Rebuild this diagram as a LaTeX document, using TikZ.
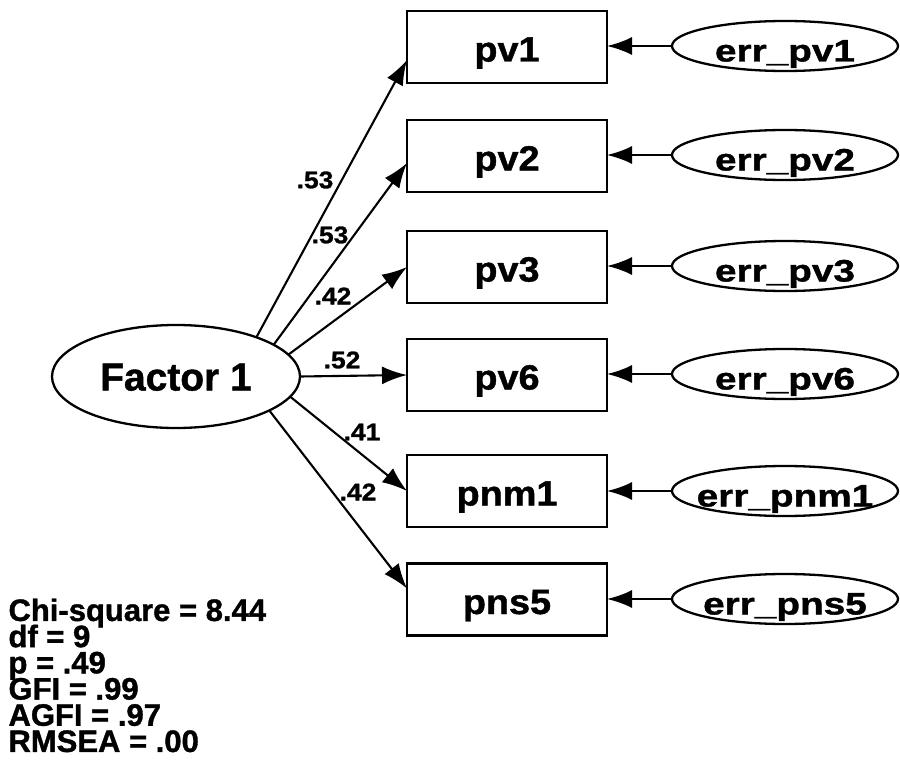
\documentclass[tikz,border=0pt]{standalone}
\usepackage{fontspec}
\setmainfont{Liberation Sans}[BoldFeatures={FakeBold=1.2}]
\newfontfamily\labfont{Liberation Sans}[FakeStretch=1.08, BoldFeatures={FakeBold=1.2}]
\newfontfamily\coeffont{Liberation Sans}[FakeStretch=1.1, BoldFeatures={FakeBold=1.2}]
\newfontfamily\errfont{Liberation Sans}[FakeStretch=1.25, BoldFeatures={FakeBold=1.2}]
\usetikzlibrary{arrows.meta,shapes.geometric}
\newcommand\statsfont{\bfseries\fontsize{31}{26.2}\selectfont\lineskiplimit -100pt\relax}

\begin{document}
\begin{tikzpicture}[x=1pt,y=-1pt,
  every node/.style={inner sep=0pt, outer sep=0pt},
  obs/.style={draw, rectangle, line width=2.3pt, minimum width=200pt, minimum height=72pt,
    font=\labfont\bfseries\fontsize{35}{35}\selectfont, text height=29pt, text depth=0pt},
  latent/.style={draw, ellipse, line width=2.3pt, minimum width=248pt, minimum height=103pt,
    font=\bfseries\fontsize{39}{39}\selectfont, text height=28pt, text depth=0pt},
  errnode/.style={draw, ellipse, line width=2.3pt, minimum width=226pt, minimum height=50pt},
  errtext/.style={font=\errfont\bfseries\fontsize{31}{31}\selectfont, text height=31pt, text depth=0pt},
  coef/.style={font=\coeffont\bfseries\fontsize{24}{24}\selectfont},
  stats/.style={align=left, font=\statsfont},
  link/.style={line width=2.1pt, -{Latex[length=25pt,width=18pt]}}
]
\useasboundingbox (0,0) rectangle (900,760);

% latent factor
\node[latent] (f) at (176,376.5) {Factor 1};

% observed indicators
\node[obs] (pv1)  at (507,47)    {pv1};
\node[obs] (pv2)  at (507,156)   {pv2};
\node[obs] (pv3)  at (507,267)   {pv3};
\node[obs] (pv6)  at (507,375)   {pv6};
\node[obs] (pnm1) at (507,491)   {pnm1};
\node[obs] (pns5) at (507,599.5) {pns5};

% error terms
\node[errnode, label={[errtext]center:err\_pv1}]  (e1) at (785,46)    {};
\node[errnode, label={[errtext]center:err\_pv2}]  (e2) at (785,155)   {};
\node[errnode, label={[errtext]center:err\_pv3}]  (e3) at (785,266)   {};
\node[errnode, label={[errtext]center:err\_pv6}]  (e4) at (785,374)   {};
\node[errnode, label={[errtext]center:err\_pnm1}] (e5) at (785,491)   {};
\node[errnode, label={[errtext]center:err\_pns5}] (e6) at (785,599) {};

% loadings
\draw[link] (f.26)  -- ([yshift=-13pt]pv1.west);
\draw[link] (f.18.7) -- ([yshift=-7pt]pv2.west);
\draw[link] (f.11.6) -- (pv3.west);
\draw[link] (f.0)   -- (pv6.west);
\draw[link] (f.-10.9) -- (pnm1.west);
\draw[link] (f.-20.4) -- ([yshift=11pt]pns5.west);

% error paths
\draw[link] (e1) -- (e1 -| pv1.east);
\draw[link] (e2) -- (e2 -| pv2.east);
\draw[link] (e3) -- (e3 -| pv3.east);
\draw[link] (e4) -- (e4 -| pv6.east);
\draw[link] (e5) -- (e5 -| pnm1.east);
\draw[link] (e6) -- (e6 -| pns5.east);

% standardized loading values
\node[coef] (c1) at (315,180) {.53};
\node[coef] (c2) at (330,235) {.53};
\node[coef] (c3) at (333,296) {.42};
\node[coef] (c4) at (342,360) {.52};
\node[coef] (c5) at (362,432) {.41};
\node[coef] (c6) at (358,492) {.42};

% fit statistics
\node[stats, anchor=north west] (fit) at (8.5,598.5)
  {Chi-square = 8.44\\df = 9\\p = .49\\GFI = .99\\AGFI = .97\\RMSEA = .00};
\end{tikzpicture}
\end{document}
